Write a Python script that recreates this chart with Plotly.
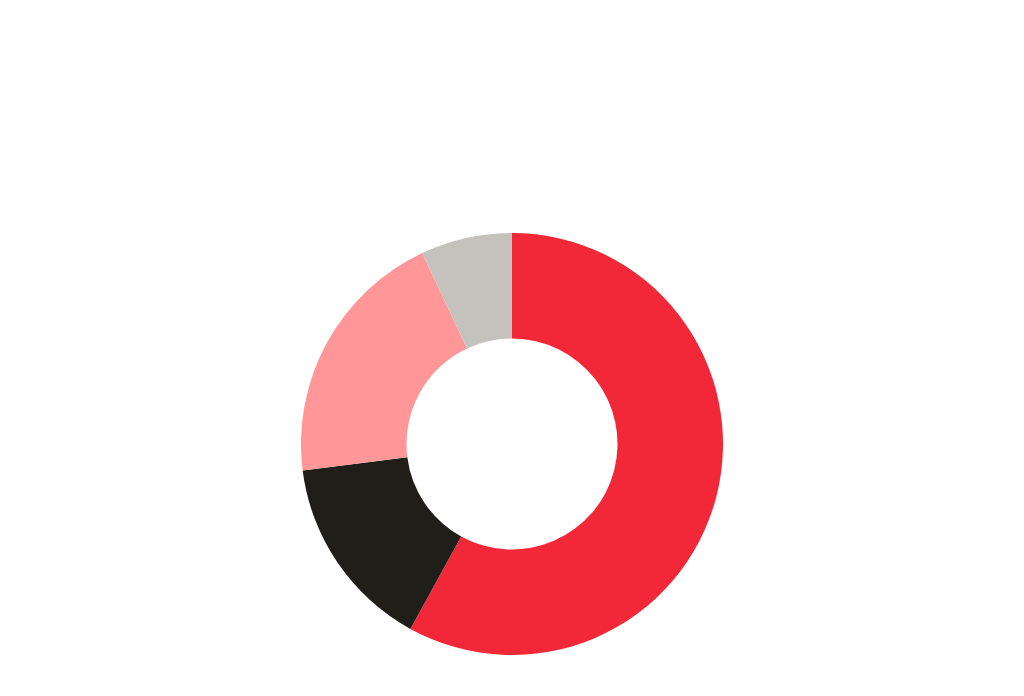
import plotly.graph_objects as go

labels = ["A", "B", "C", "D"]
values = [58, 15, 20, 7]
colors = ["#F22839", "#1F1E18", "#FF9799", "#C3C2BD"]

fig = go.Figure(
    go.Pie(
        labels=labels,
        values=values,
        hole=0.5,
        sort=False,
        direction="clockwise",
        rotation=0,
        marker=dict(colors=colors, line=dict(width=0)),
        textinfo="none",
        hoverinfo="label+percent",
        domain=dict(x=[0, 1], y=[33 / 680, 455 / 680]),
    )
)

fig.update_layout(
    width=1008,
    height=680,
    margin=dict(l=0, r=0, t=0, b=0),
    showlegend=False,
    paper_bgcolor="white",
    plot_bgcolor="white",
)

fig.write_html("out.html")
